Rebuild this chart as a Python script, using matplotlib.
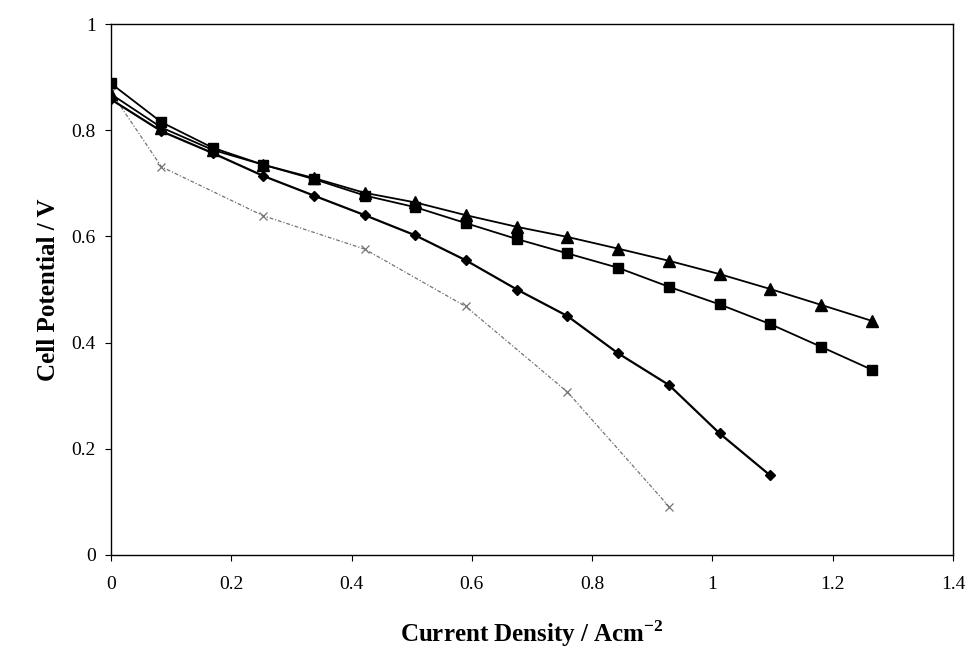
import matplotlib
matplotlib.use("Agg")
import matplotlib.pyplot as plt

# ---- data ----
current = [0.0, 0.084, 0.169, 0.253, 0.337, 0.422, 0.506, 0.590,
           0.675, 0.759, 0.843, 0.928, 1.012, 1.096, 1.181, 1.265]
square_v = [0.888, 0.815, 0.767, 0.735, 0.708, 0.677, 0.655, 0.625,
            0.595, 0.568, 0.541, 0.505, 0.472, 0.435, 0.392, 0.349]
triangle_v = [0.868, 0.805, 0.763, 0.735, 0.710, 0.682, 0.664, 0.640,
              0.618, 0.599, 0.577, 0.554, 0.529, 0.501, 0.471, 0.441]
diamond_v = [0.858, 0.798, 0.757, 0.714, 0.677, 0.640, 0.602, 0.555,
             0.500, 0.450, 0.380, 0.320, 0.229, 0.150]
cross_i = [0.0, 0.084, 0.253, 0.422, 0.590, 0.759, 0.928]
cross_v = [0.872, 0.731, 0.639, 0.576, 0.468, 0.307, 0.091]

xticks = [0, 0.2, 0.4, 0.6, 0.8, 1.0, 1.2, 1.4]
xticklabels = ["0", "0.2", "0.4", "0.6", "0.8", "1", "1.2", "1.4"]
yticks = [0, 0.2, 0.4, 0.6, 0.8, 1.0]
yticklabels = ["0", "0.2", "0.4", "0.6", "0.8", "1"]

plt.rcParams['font.family'] = ['Liberation Serif', 'DejaVu Serif']
plt.rcParams['mathtext.fontset'] = 'custom'
plt.rcParams['mathtext.rm'] = 'Liberation Serif'
plt.rcParams['mathtext.bf'] = 'Liberation Serif:bold'
plt.rcParams['axes.unicode_minus'] = False

fig = plt.figure(figsize=(9.7, 6.47), dpi=100)
ax = fig.add_axes([0.1144, 0.1422, 0.868, 0.8207])

ax.plot(cross_i, cross_v, color='0.45', lw=0.9, ls=(0, (3, 1.5, 1, 1.5)),
        marker='x', ms=6, mew=0.9, zorder=2)
ax.plot(current[:len(diamond_v)], diamond_v, color='black', lw=1.6,
        marker='D', ms=5.5, zorder=3)
ax.plot(current, square_v, color='black', lw=1.3, marker='s', ms=7, zorder=3)
ax.plot(current, triangle_v, color='black', lw=1.3, marker='^', ms=8, zorder=3)

ax.set_xlim(0, 1.4)
ax.set_ylim(0, 1)
ax.set_xticks(xticks)
ax.set_xticklabels(xticklabels)
ax.set_yticks(yticks)
ax.set_yticklabels(yticklabels)
ax.tick_params(axis='both', direction='out', length=4, width=0.8,
               labelsize=14)
ax.tick_params(axis='x', pad=11)
ax.tick_params(axis='y', pad=7)
for s in ax.spines.values():
    s.set_linewidth(1.0)
    s.set_color('black')

ax.set_xlabel("Current Density / Acm$^{\\mathbf{-2}}$", fontsize=18,
              fontweight='bold', labelpad=18)
ax.set_ylabel("Cell Potential / V", fontsize=18, fontweight='bold',
              labelpad=8)

fig.savefig("out.png", dpi=100)
